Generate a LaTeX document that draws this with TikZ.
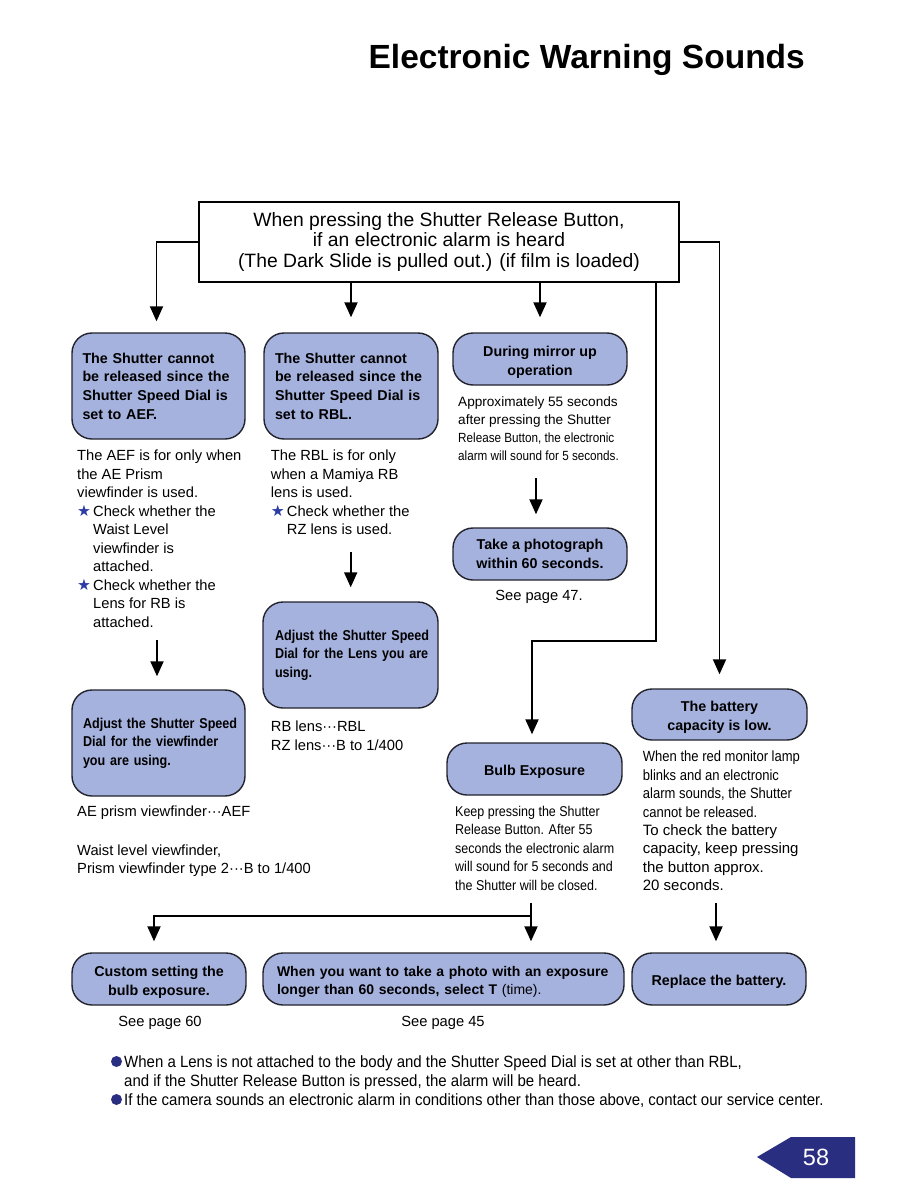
\documentclass[tikz,border=0pt]{standalone}
\usepackage{fontspec}
\setmainfont{Liberation Sans}
\newfontfamily\condf[FakeStretch=0.88]{Liberation Sans}
\newfontfamily\condbf[FakeStretch=0.88]{Liberation Sans Bold}
\newfontfamily\footf[FakeStretch=0.92]{Liberation Sans}
\newfontfamily\dejavu{DejaVu Sans}
\usetikzlibrary{arrows.meta}
\definecolor{boxfill}{RGB}{166,178,222}
\definecolor{boxline}{RGB}{35,35,45}
\definecolor{starblue}{RGB}{45,60,165}
\definecolor{navy}{RGB}{42,46,128}
\newcommand\mystar{\makebox[16pt][l]{\dejavu\fontsize{15.5}{15}\selectfont\color{starblue}★}}
\newcommand\dnc[2]{\raisebox{-#1}[\height][\depth]{\begin{tabular}{@{}c@{}}#2\end{tabular}}}
\newcommand\dnl[2]{\raisebox{-#1}[\height][\depth]{\begin{tabular}{@{}l@{}}#2\end{tabular}}}
\tikzset{
  box/.style={draw=boxline, fill=boxfill, line width=1.4pt, rounded corners=20pt, inner ysep=0pt,
    font=\bfseries\fontsize{14.3}{18.7}\selectfont},
  cbox/.style={box, font=\condbf\fontsize{14.3}{18.6}\selectfont},
  tb/.style={anchor=base west, inner sep=0pt, font=\fontsize{14.7}{18.5}\selectfont},
  tc/.style={anchor=base, inner sep=0pt, font=\fontsize{14.7}{18.5}\selectfont},
  mirA/.style={anchor=base west, inner sep=0pt, font=\fontsize{13.6}{18}\selectfont},
  mirB/.style={anchor=base west, inner sep=0pt, font=\condf\fontsize{13.3}{18}\selectfont},
  bulbt/.style={anchor=base west, inner sep=0pt, font=\condf\fontsize{14.2}{18.5}\selectfont},
  batA/.style={anchor=base west, inner sep=0pt, font=\condf\fontsize{14.8}{18.5}\selectfont},
  batB/.style={anchor=base west, inner sep=0pt, font=\fontsize{15}{18.5}\selectfont},
  foot/.style={anchor=base west, inner sep=0pt, font=\footf\fontsize{16.3}{19}\selectfont},
  link/.style={line width=1.9pt, draw=black},
  arr/.style={link, -{Triangle[width=13pt,length=15pt]}},
  dot/.style={circle, fill=navy, inner sep=0pt, minimum size=11pt}
}
\begin{document}
\begin{tikzpicture}[x=1pt,y=-1pt]
\path[use as bounding box] (0,0) rectangle (918,1188);
\fill[white] (0,0) rectangle (918,1188);

% title
\node[anchor=base east, inner sep=0pt, font=\bfseries\fontsize{33.5}{40}\selectfont] (title) at (805,69) {Electronic Warning Sounds};

% top box
\node[draw=black, line width=1.5pt, fill=white, minimum width=480pt, minimum height=80pt, align=center, inner sep=0pt,
  font=\fontsize{19.3}{20.3}\selectfont] (top) at (439,242)
  {When pressing the Shutter Release Button,\\ if an electronic alarm is heard\\ (The Dark Slide is pulled out.) (if film is loaded)};

% boxes
\node[box, minimum width=173pt, minimum height=106pt, text width=152pt, inner xsep=10.5pt, align=left] (aef) at (158.5,386)
  {The Shutter cannot\\be released since the\\Shutter Speed Dial is\\set to AEF.};
\node[box, minimum width=174pt, minimum height=106pt, text width=152pt, inner xsep=11pt, align=left] (rbl) at (351,386)
  {The Shutter cannot\\be released since the\\Shutter Speed Dial is\\set to RBL.};
\node[box, minimum width=174pt, minimum height=52pt, align=center] (mirror) at (540,359)
  {\dnc{3.5pt}{During mirror up\\operation}};
\node[box, minimum width=174pt, minimum height=52pt, align=center] (take) at (540,554)
  {Take a photograph\\within 60 seconds.};
\node[cbox, minimum width=175pt, minimum height=106pt, text width=151pt, inner xsep=12pt, align=left] (adj2) at (350.5,655)
  {\mbox{Adjust the Shutter Speed}\\\mbox{Dial for the Lens you are}\\using.};
\node[cbox, minimum width=173pt, minimum height=106pt, text width=151pt, inner xsep=11pt, align=left] (adj1) at (158.5,743)
  {\mbox{Adjust the Shutter Speed}\\\mbox{Dial for the viewfinder}\\\mbox{you are using.}};
\node[box, minimum width=175pt, minimum height=51pt, align=center] (batt) at (719.5,714.5)
  {\dnc{3pt}{The battery\\capacity is low.}};
\node[box, minimum width=175pt, minimum height=52pt, align=center] (bulb) at (534.5,769)
  {\dnc{2.5pt}{Bulb Exposure}};
\node[box, minimum width=174pt, minimum height=52pt, align=center] (custom) at (159,979)
  {\dnc{3pt}{Custom setting the\\bulb exposure.}};
\node[box, minimum width=361pt, minimum height=52pt, text width=333pt, inner xsep=14pt, align=left,
  font=\bfseries\fontsize{14}{18.5}\selectfont] (when) at (443.5,979)
  {\dnl{3pt}{When you want to take a photo with an exposure\\longer than 60 seconds, select T {\mdseries (time).}}};
\node[box, minimum width=174pt, minimum height=52pt, align=center] (replace) at (719,979)
  {\dnc{2.5pt}{Replace the battery.}};

% AEF column text
\node[tb] (l1) at (77,460.7) {The AEF is for only when};
\node[tb] (l2) at (77,479.2) {the AE Prism};
\node[tb] (l3) at (77,497.7) {viewfinder is used.};
\node[tb] (l4) at (77,516.2) {\mystar Check whether the};
\node[tb] (l5) at (93,534.7) {Waist Level};
\node[tb] (l6) at (93,553.2) {viewfinder is};
\node[tb] (l7) at (93,571.7) {attached.};
\node[tb] (l8) at (77,590.2) {\mystar Check whether the};
\node[tb] (l9) at (93,608.7) {Lens for RB is};
\node[tb] (l10) at (93,627.2) {attached.};
\node[tb] (l11) at (77,816.7) {AE prism viewfinder···AEF};
\node[tb] (l12) at (77,855) {Waist level viewfinder,};
\node[tb] (l13) at (77,873.5) {Prism viewfinder type 2···B to 1/400};

% RBL column text
\node[tb] (m1) at (270.7,460.7) {The RBL is for only};
\node[tb] (m2) at (270.7,479.2) {when a Mamiya RB};
\node[tb] (m3) at (270.7,497.7) {lens is used.};
\node[tb] (m4) at (270.7,516.2) {\mystar Check whether the};
\node[tb] (m5) at (286.7,534.7) {RZ lens is used.};
\node[tb] (m6) at (270.7,731.7) {RB lens···RBL};
\node[tb] (m7) at (270.7,750) {RZ lens···B to 1/400};

% mirror column text
\node[mirA] (r1) at (458,406) {Approximately 55 seconds};
\node[mirA] (r2) at (458,424) {after pressing the Shutter};
\node[mirB] (r3) at (458,442.5) {Release Button, the electronic};
\node[mirB] (r4) at (458,460.5) {alarm will sound for 5 seconds.};
\node[tc] (r5) at (539,600) {See page 47.};

% bulb text
\node[bulbt] (u1) at (455,816) {Keep pressing the Shutter};
\node[bulbt] (u2) at (455,834.5) {Release Button. After 55};
\node[bulbt] (u3) at (455,853) {seconds the electronic alarm};
\node[bulbt] (u4) at (455,871.5) {will sound for 5 seconds and};
\node[bulbt] (u5) at (455,890) {the Shutter will be closed.};

% battery text
\node[batA] (v1) at (642.7,761.7) {When the red monitor lamp};
\node[batA] (v2) at (642.7,780) {blinks and an electronic};
\node[batA] (v3) at (642.7,798.5) {alarm sounds, the Shutter};
\node[batA] (v4) at (642.7,817) {cannot be released.};
\node[batB] (v5) at (642.7,835) {To check the battery};
\node[batB] (v6) at (642.7,853.5) {capacity, keep pressing};
\node[batB] (v7) at (642.7,872) {the button approx.};
\node[batB] (v8) at (642.7,890.5) {20 seconds.};

% see pages
\node[tc] (p60) at (160,1026.7) {See page 60};
\node[tc] (p45) at (443,1026.7) {See page 45};

% connectors
\draw[arr, shorten >=11pt] (top.west) -| ([xshift=-2pt]aef.north);
\draw[arr, shorten >=15pt] (top.south -| rbl.north) -- (rbl.north);
\draw[arr, shorten >=15pt] (top.south -| mirror.north) -- (mirror.north);
\draw[arr, shorten >=14pt] (top.east) -| (batt.north);
\coordinate (jb) at (656,641);
\coordinate (jc) at (532,641);
\draw[arr, shorten >=8pt] (top.south -| jb) -- (jb) -- (jc) -- (jc |- bulb.north);
\coordinate (a1) at (157,640);
\draw[arr, shorten >=13pt] (a1) -- (a1 |- adj1.north);
\coordinate (a2) at (350.7,552);
\draw[arr, shorten >=14pt] (a2) -- (a2 |- adj2.north);
\coordinate (a3) at (536,478);
\draw[arr, shorten >=13pt] (a3) -- (a3 |- take.north);
\coordinate (a4) at (531,903);
\draw[arr, shorten >=11pt] (a4) -- (a4 |- when.north);
\coordinate (k) at (531,916);
\coordinate (kl) at (154,916);
\draw[arr, shorten >=11pt] (k) -- (kl) -- (kl |- custom.north);
\coordinate (a6) at (716,903);
\draw[arr, shorten >=11pt] (a6) -- (a6 |- replace.north);

% footnotes
\node[dot] (b1) at (116.5,1061.5) {};
\node[foot] (f1) at (124,1067) {When a Lens is not attached to the body and the Shutter Speed Dial is set at other than RBL,};
\node[foot] (f2) at (124,1086) {and if the Shutter Release Button is pressed, the alarm will be heard.};
\node[dot] (b2) at (116.5,1099.5) {};
\node[foot] (f3) at (124,1105) {If the camera sounds an electronic alarm in conditions other than those above, contact our service center.};

% page tab
\fill[navy] (757,1157) -- (791,1137) -- (855,1137) -- (855,1178) -- (791,1178) -- cycle;
\node[inner sep=0pt, text=white, font=\fontsize{23.5}{24}\selectfont] (pg) at (816,1157) {58};
\end{tikzpicture}
\end{document}
